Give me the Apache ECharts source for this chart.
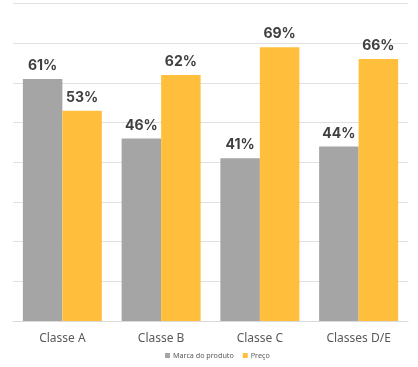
<!DOCTYPE html>
<html><head><meta charset="utf-8">
<script src="https://cdn.jsdelivr.net/npm/echarts@6/dist/echarts.min.js"></script>
<style>html,body{margin:0;padding:0;background:#fff}#c{width:418px;height:367px}</style>
</head><body><div id="c"></div>
<script>
const categories = ['Classe A', 'Classe B', 'Classe C', 'Classes D/E'];
const marca = [61, 46, 41, 44];
const preco = [53, 62, 69, 66];
const chart = echarts.init(document.getElementById('c'));
const lbl = {show: true, position: 'top', distance: 6, formatter: '{c}%', fontFamily: 'Inter', fontWeight: 'bold', fontSize: 14, color: '#404040'};
chart.setOption({
  animation: false,
  grid: {left: 13, right: 10, top: 3.5, bottom: 46},
  legend: {bottom: 3, left: 160, itemWidth: 5, itemHeight: 5, itemGap: 9, icon: 'rect',
    textStyle: {fontSize: 7.2, color: '#595959', fontFamily: 'Noto Sans', padding: [0, 0, 0, -2]},
    data: ['Marca do produto', 'Preço']},
  xAxis: {type: 'category', data: categories,
    axisLine: {lineStyle: {color: '#d9d9d9'}}, axisTick: {show: false},
    axisLabel: {color: '#595959', fontSize: 12, margin: 12, fontFamily: 'Noto Sans'}},
  yAxis: {type: 'value', min: 0, max: 80, interval: 10, axisLabel: {show: false},
    splitLine: {lineStyle: {color: '#e0e0e0'}}},
  series: [
    {name: 'Marca do produto', type: 'bar', data: marca, barGap: '0%', barCategoryGap: '20%',
      itemStyle: {color: '#a5a5a5'}, label: lbl},
    {name: 'Preço', type: 'bar', data: preco,
      itemStyle: {color: '#ffbf3c'}, label: lbl}
  ]
});
</script></body></html>
